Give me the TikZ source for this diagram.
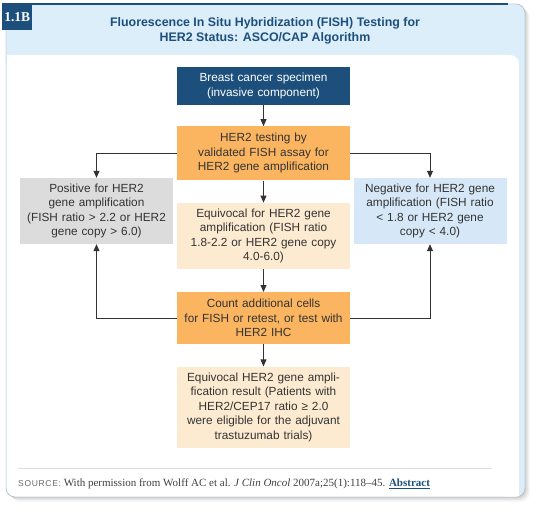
\documentclass[tikz,border=0pt]{standalone}
\usepackage{fontspec}
\setmainfont{Liberation Serif}
\setsansfont{Liberation Sans}
\usepackage{tikz}
\usetikzlibrary{arrows.meta,positioning}
\definecolor{Navy}{HTML}{1D4F7C}
\definecolor{Header}{HTML}{DCEEFA}
\definecolor{Rim}{HTML}{B9C3CA}
\definecolor{Amber}{HTML}{FBB560}
\definecolor{Cream}{HTML}{FDEBD1}
\definecolor{Fog}{HTML}{DCDCDC}
\definecolor{Sky}{HTML}{D6E8F7}
\definecolor{Ink}{HTML}{333333}
\tikzset{
  flowbox/.style={rectangle, minimum width=173pt, text width=165pt, align=center,
    inner sep=0pt, font=\sffamily\fontsize{11.8}{14.5}\selectfont, text=Ink,
    fill=#1},
  flowbox/.default={white},
  sidebox/.style={flowbox=#1, minimum width=153pt, text width=148pt, minimum height=66pt},
  linkarr/.style={-{Triangle[length=7pt,width=6pt]}, line width=0.8pt, draw=Ink},
}

\begin{document}
\begin{tikzpicture}[x=1pt, y=-1pt]
  \useasboundingbox (0,0) rectangle (540,513);

  % card with soft shadow
  \foreach \d/\o in {1/0.07,2/0.05,3/0.04,4/0.03,5/0.02}
    \fill[black, opacity=\o, rounded corners=9pt] (6+\d,4+\d) rectangle (525+\d,497+\d);
  \filldraw[fill=Header, draw=Rim, rounded corners=9pt] (6,4) rectangle (525,497);
  \fill[white, rounded corners=9pt] (6.5,55) rectangle (519,496.5);
  \fill[white] (6.5,55) rectangle (20,70);
  \fill[white] (505,480) rectangle (519,496.5);
  \draw[Rim, rounded corners=9pt] (6,4) rectangle (525,497);
  \draw[Navy, line width=2pt] (6,4) -- (508,4);

  \node[fill=Navy, text=white, font=\bfseries\fontsize{13.5}{15}\selectfont,
    minimum width=30pt, minimum height=27pt, inner sep=0pt, anchor=north west]
    (tag) at (2,3) {1.1B};
  \node[font=\sffamily\bfseries\fontsize{12.4}{14.5}\selectfont, text=Navy, align=center]
    (title) at (265,31) {Fluorescence In Situ Hybridization (FISH) Testing for\\HER2 Status: ASCO/CAP Algorithm};

  % flow
  \node[flowbox=Navy, text=white, minimum height=38pt] (spec) at (263.5,86)
    {Breast cancer specimen\\(invasive component)};
  \node[flowbox=Amber, minimum height=54pt, below=21pt of spec] (test)
    {HER2 testing by\\validated FISH assay for\\HER2 gene amplification};
  \node[flowbox=Cream, minimum height=66pt, below=22pt of test] (equiv)
    {Equivocal for HER2 gene\\amplification (FISH ratio\\1.8-2.2 or HER2 gene copy\\4.0-6.0)};
  \node[flowbox=Amber, minimum height=52pt, below=23pt of equiv] (count)
    {Count additional cells\\for FISH or retest, or test with\\HER2 IHC};
  \node[flowbox=Cream, minimum height=81pt, below=22pt of count] (result)
    {Equivocal HER2 gene ampli-\\fication result (Patients with\\HER2/CEP17 ratio ≥ 2.0\\were eligible for the adjuvant\\trastuzumab trials)};

  \node[sidebox=Fog] (pos) at (96.5,211)
    {Positive for HER2\\gene amplification\\(FISH ratio > 2.2 or HER2\\gene copy > 6.0)};
  \node[sidebox=Sky] (neg) at (430,211)
    {Negative for HER2 gene\\amplification (FISH ratio\\< 1.8 or HER2 gene\\copy < 4.0)};

  \draw[linkarr] (spec) -- (test);
  \draw[linkarr] (test) -- (equiv);
  \draw[linkarr] (equiv) -- (count);
  \draw[linkarr] (count) -- (result);
  \draw[linkarr] (test.west) -| (pos.north);
  \draw[linkarr] (test.east) -| (neg.north);
  \draw[linkarr] (count.west) -| (pos.south);
  \draw[linkarr] (count.east) -| (neg.south);

  % source line
  \draw[black!13] (18,468) -- (492,468);
  \node[anchor=west, inner sep=0pt, font=\fontsize{11}{13}\selectfont, text=black!75]
    (src) at (18,484)
    {{\sffamily\fontsize{8.5}{10}\selectfont\addfontfeatures{LetterSpace=8}\color{black!60}SOURCE:}
     With permission from Wolff AC et al. \textit{J Clin Oncol} 2007a;25(1):118--45.
     \textcolor{Navy}{\bfseries\underline{Abstract}}};
\end{tikzpicture}
\end{document}
